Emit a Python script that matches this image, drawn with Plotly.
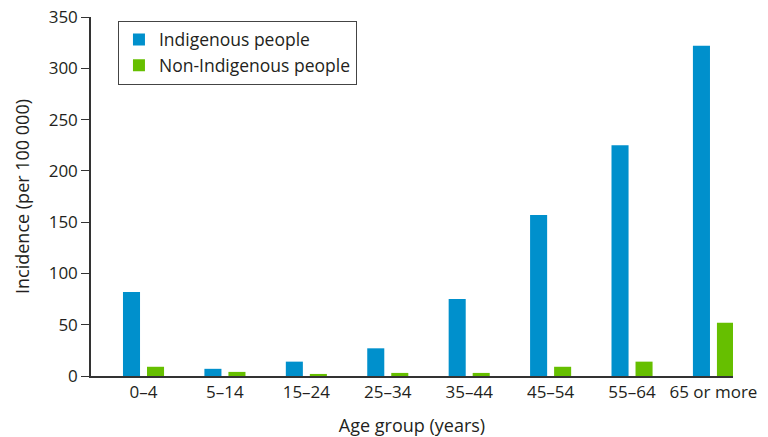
import plotly.graph_objects as go

categories = ["0–4", "5–14", "15–24", "25–34", "35–44", "45–54", "55–64", "65 or more"]
indigenous = [82, 7, 14, 27, 75, 157, 225, 322]
non_indigenous = [9, 4, 2, 3, 3, 9, 14, 52]
y_ticks = [0, 50, 100, 150, 200, 250, 300, 350]

font_family = "'Open Sans', Lato, sans-serif"
text_color = "#231f20"

fig = go.Figure()
fig.add_trace(go.Bar(x=categories, y=indigenous, name="Indigenous people",
                     marker=dict(color="#0090cc", line=dict(width=0))))
fig.add_trace(go.Bar(x=categories, y=non_indigenous, name="Non-Indigenous people",
                     marker=dict(color="#66bf00", line=dict(width=0))))

fig.update_layout(
    width=768, height=437,
    margin=dict(l=91, r=35, t=17, b=61),
    paper_bgcolor="white", plot_bgcolor="white",
    font=dict(family=font_family, size=16, color=text_color),
    barmode="group", bargap=0.41, bargroupgap=0.29,
    showlegend=True,
    legend=dict(x=0.042, y=0.99, xanchor="left", yanchor="top",
                bordercolor="#444", borderwidth=1, bgcolor="white",
                font=dict(size=17.5, color=text_color),
                tracegroupgap=4, itemsizing="constant"),
    xaxis=dict(type="category", range=[-0.645, 7.24], automargin=False,
               showline=True, linecolor="#333", linewidth=1.5,
               ticks="", showgrid=False, zeroline=False,
               tickfont=dict(size=17), ticklabeloverflow="allow",
               title=dict(text="Age group (years)", font=dict(size=18), standoff=27)),
    yaxis=dict(range=[0, 350], tickvals=y_ticks, automargin=False,
               showline=True, linecolor="#333", linewidth=1.5,
               ticks="outside", ticklen=8, tickcolor="#333", tickwidth=1,
               showgrid=False, zeroline=False,
               tickfont=dict(size=17), ticklabeloverflow="allow",
               title=dict(text="Incidence (per 100 000)", font=dict(size=18), standoff=14)),
)

# remove the default 8px page margin so the figure fills the window exactly
fig.write_html("out.html", config={"displayModeBar": False},
               post_script="document.body.style.margin='0';")
